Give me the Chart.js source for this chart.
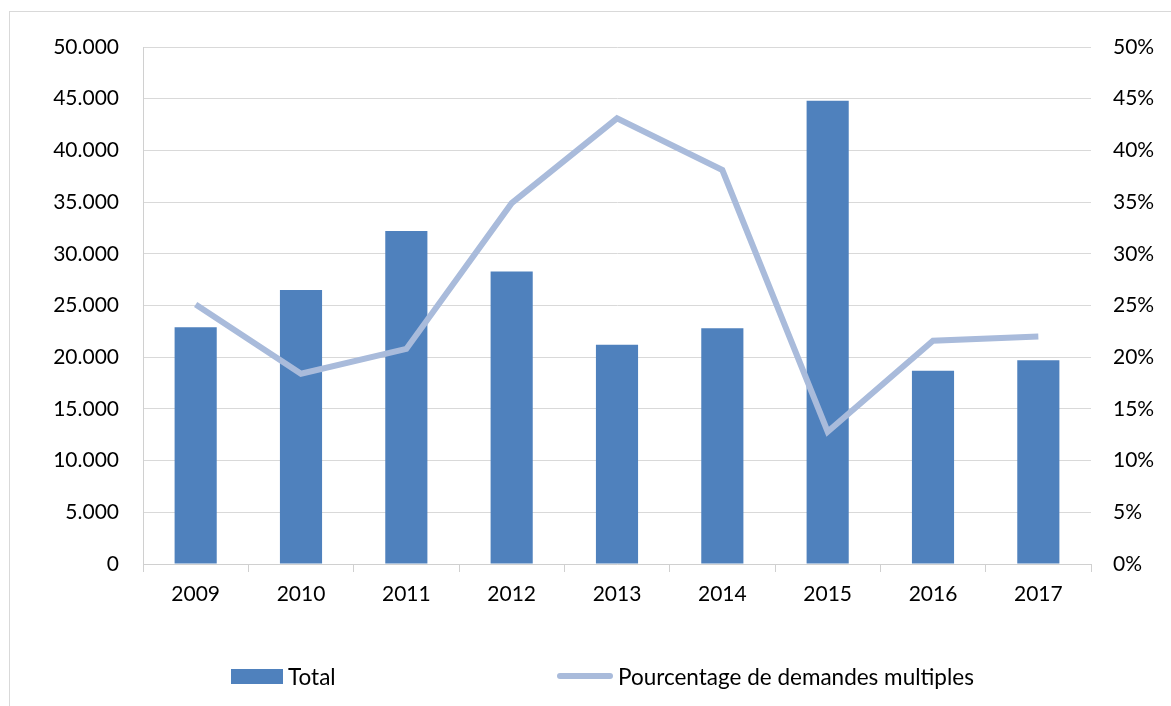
<!DOCTYPE html>
<html>
<head>
<meta charset="utf-8">
<script src="https://cdn.jsdelivr.net/npm/chart.js@4.4.1/dist/chart.umd.min.js"></script>
<style>
html,body{margin:0;padding:0;background:#fff;width:1171px;height:706px;overflow:hidden;}
#frame{position:absolute;left:9px;top:11px;width:1250px;height:760px;border:1px solid #D9D9D9;box-sizing:border-box;}
#wrap{position:absolute;left:0;top:0;width:1171px;height:706px;}
.lg{position:absolute;top:663px;height:26px;display:flex;align-items:center;font-family:Lato,"Open Sans",sans-serif;font-size:22.5px;color:#000;white-space:nowrap;}
.sw-bar{width:52px;height:15px;background:#4F81BD;margin-right:5px;}
.sw-line{width:56px;height:6px;border-radius:3px;background:#A9BBDB;margin-right:5px;}
</style>
</head>
<body>
<div id="frame"></div>
<div id="wrap"><canvas id="c" width="1171" height="706"></canvas></div>
<div class="lg" id="lg1" style="left:231px"><div class="sw-bar"></div><span id="lt1"></span></div>
<div class="lg" id="lg2" style="left:557px"><div class="sw-line"></div><span id="lt2"></span></div>
<script>
const categories = ['2009','2010','2011','2012','2013','2014','2015','2016','2017'];
const totals = [22900, 26500, 32200, 28300, 21200, 22800, 44800, 18700, 19700];
const percentMultiple = [25.1, 18.4, 20.8, 34.9, 43.1, 38.1, 12.8, 21.6, 22.0];
const seriesNames = ['Total', 'Pourcentage de demandes multiples'];

document.getElementById('lt1').textContent = seriesNames[0];
document.getElementById('lt2').textContent = seriesNames[1];

const FONT = {family: 'Lato, "Open Sans", sans-serif', size: 21};
const fmtThousands = v => String(v).replace(/\B(?=(\d{3})+(?!\d))/g, '.');

new Chart(document.getElementById('c'), {
  type: 'bar',
  data: {
    labels: categories,
    datasets: [
      {
        type: 'line',
        label: seriesNames[1],
        data: percentMultiple,
        yAxisID: 'yR',
        borderColor: '#A9BBDB',
        backgroundColor: '#A9BBDB',
        borderWidth: 6,
        pointRadius: 0,
        pointHoverRadius: 0,
        tension: 0,
        borderJoinStyle: 'miter',
        order: 0
      },
      {
        type: 'bar',
        label: seriesNames[0],
        data: totals,
        yAxisID: 'yL',
        backgroundColor: '#4F81BD',
        barPercentage: 0.4,
        categoryPercentage: 1.0,
        order: 1
      }
    ]
  },
  options: {
    responsive: false,
    animation: false,
    layout: {padding: {top: 47, left: 0, right: 0, bottom: 0}},
    plugins: {legend: {display: false}, tooltip: {enabled: false}},
    scales: {
      x: {
        grid: {display: true, drawOnChartArea: false, drawTicks: true, tickLength: 8, color: '#D0D0D0', offset: true},
        border: {display: true, color: '#D0D0D0'},
        ticks: {font: FONT, color: '#000', padding: 10, maxRotation: 0},
        afterFit: s => { s.height = 142; }
      },
      yL: {
        position: 'left',
        min: 0, max: 50000,
        ticks: {stepSize: 5000, font: FONT, color: '#000', padding: 24, callback: v => fmtThousands(v)},
        grid: {color: '#D9D9D9', drawTicks: false},
        border: {display: true, color: '#D0D0D0'},
        afterFit: s => { s.width = 143; }
      },
      yR: {
        position: 'right',
        min: 0, max: 50,
        ticks: {stepSize: 5, font: FONT, color: '#000', padding: 22, callback: v => v + '%'},
        grid: {drawOnChartArea: false, drawTicks: false},
        border: {display: false},
        afterFit: s => { s.width = 80; }
      }
    }
  }
});
</script>
</body>
</html>
